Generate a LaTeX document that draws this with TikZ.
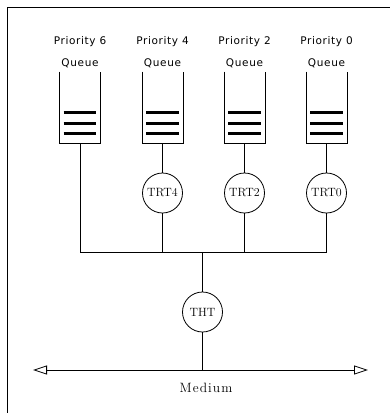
\documentclass[tikz,border=0pt]{standalone}
\usepackage{fontspec}
\newfontfamily\lblfont[LetterSpace=6]{DejaVu Sans}
\newfontfamily\medfont[LetterSpace=8]{Latin Modern Roman}
\usetikzlibrary{arrows.meta}
\begin{document}
\begin{tikzpicture}[x=1pt,y=-1pt,
  line width=0.8pt,
  qlabel/.style={font=\lblfont\fontsize{10.5}{12}\selectfont, inner sep=0pt},
  qbar/.style={line width=3pt},
  timer/.style={circle, draw, minimum size=40pt, inner sep=0pt, font=\fontsize{12}{14}\selectfont},
  queuebox/.style={draw=none, minimum width=40pt, minimum height=71pt, inner sep=0pt},
  medlabel/.style={font=\medfont\fontsize{13.5}{16}\selectfont, inner sep=0pt}]
\useasboundingbox (0,0) rectangle (390,413);
% frame (top and left edges visible)
\draw (390,7) -- (7,7) -- (7,413);

% queues
\foreach \n/\x/\p in {q6/80/6, q4/162.5/4, q2/244.5/2, q0/326.5/0} {
  \node[qlabel] (p\n) at (\x,42) {Priority \p};
  \node[qlabel] (l\n) at (\x,63) {Queue};
  \node[queuebox] (\n) at (\x,107.5) {};
  \draw (\n.north west) -- (\n.south west) -- (\n.south east) -- (\n.north east);
  \draw[qbar] ([xshift=4pt]\n.west |- 0,112) -- ([xshift=-4pt]\n.east |- 0,112);
  \draw[qbar] ([xshift=4pt]\n.west |- 0,123) -- ([xshift=-4pt]\n.east |- 0,123);
  \draw[qbar] ([xshift=4pt]\n.west |- 0,133) -- ([xshift=-4pt]\n.east |- 0,133);
}

% timers
\node[timer] (trt4) at (162.5,193) {TRT4};
\node[timer] (trt2) at (244.5,193) {TRT2};
\node[timer] (trt0) at (326.5,193) {TRT0};
\node[timer] (tht) at (202.5,312) {THT};

\coordinate (j6) at (80,252);
\coordinate (j4) at (162.5,252);
\coordinate (j2) at (244.5,252);
\coordinate (j0) at (326.5,252);
\coordinate (jm) at (202.5,252);
\coordinate (mm) at (202.5,370);
\coordinate (ml) at (33,370);
\coordinate (mr) at (368,370);

\draw (q6.south) -- (j6);
\draw (q4.south) -- (trt4) -- (j4);
\draw (q2.south) -- (trt2) -- (j2);
\draw (q0.south) -- (trt0) -- (j0);
\draw (j6) -- (j0);
\draw (jm) -- (tht) -- (mm);
\draw[{Triangle[open,length=14pt,width=9pt]}-{Triangle[open,length=14pt,width=9pt]}] (ml) -- (mr);
\node[medlabel] (med) at (206,388) {Medium};
\end{tikzpicture}
\end{document}
